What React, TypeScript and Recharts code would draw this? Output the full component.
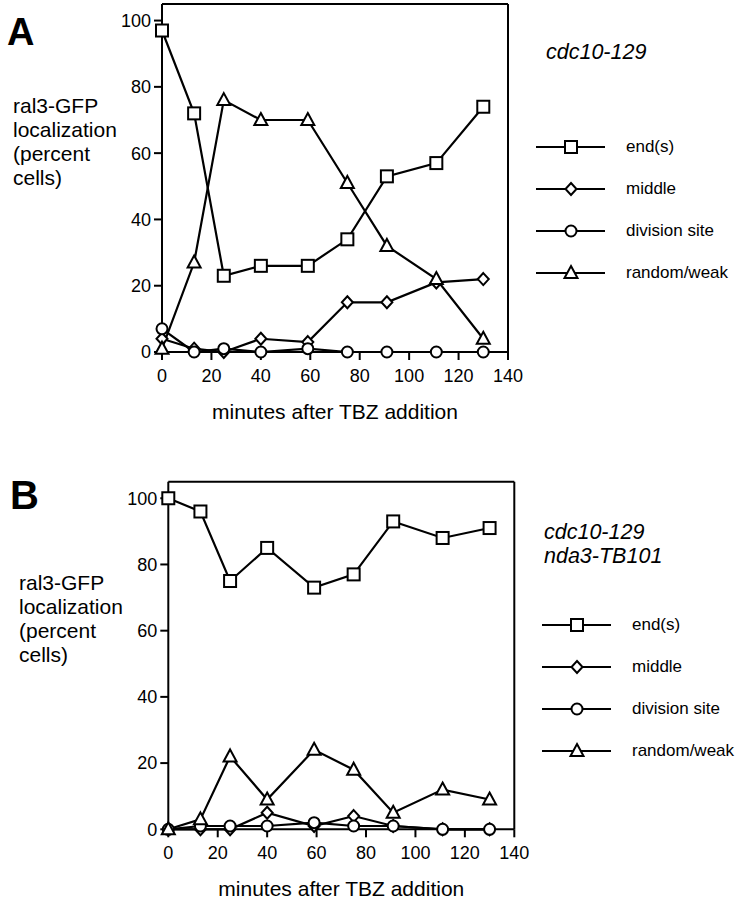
import React from 'react'
import { LineChart, Line, XAxis, YAxis, ReferenceLine, Legend, Label } from 'recharts'

const FONT = '"Liberation Sans", Arial, Helvetica, sans-serif'

// sampling times (minutes after TBZ addition)
const minutes = [0, 13, 25, 40, 59, 75, 91, 111, 130]

// panel A: cdc10-129
const endsA = [97, 72, 23, 26, 26, 34, 53, 57, 74]
const middleA = [4, 1, 0, 4, 3, 15, 15, 21, 22]
const divisionA = [7, 0, 1, 0, 1, 0, 0, 0, 0]
const randomA = [1, 27, 76, 70, 70, 51, 32, 22, 4]

// panel B: cdc10-129 nda3-TB101
const endsB = [100, 96, 75, 85, 73, 77, 93, 88, 91]
const middleB = [0, 0, 0, 5, 1, 4, 1, 0, 0]
const divisionB = [0, 1, 1, 1, 2, 1, 1, 0, 0]
const randomB = [0, 3, 22, 9, 24, 18, 5, 12, 9]

const xTicks = [0, 20, 40, 60, 80, 100, 120, 140]
const yTicks = [0, 20, 40, 60, 80, 100]

const seriesNames = ['end(s)', 'middle', 'division site', 'random/weak']
const seriesKeys = ['ends', 'middle', 'division', 'random']
const seriesShapes = ['square', 'diamond', 'circle', 'triangle']

function buildRows(ends: number[], middle: number[], division: number[], random: number[]) {
  return minutes.map((m, i) => ({
    minutes: m,
    ends: ends[i],
    middle: middle[i],
    division: division[i],
    random: random[i],
  }))
}

const dataA = buildRows(endsA, middleA, divisionA, randomA)
const dataB = buildRows(endsB, middleB, divisionB, randomB)

function Marker({ shape, cx, cy }: { shape: string; cx: number; cy: number }) {
  const common = { fill: '#fff', stroke: '#000', strokeWidth: 2 }
  if (shape === 'square') return <rect x={cx - 6} y={cy - 6} width={12} height={12} {...common} />
  if (shape === 'diamond')
    return <polygon points={`${cx},${cy - 6} ${cx + 5.5},${cy} ${cx},${cy + 6} ${cx - 5.5},${cy}`} {...common} />
  if (shape === 'circle') return <circle cx={cx} cy={cy} r={5.5} {...common} />
  return <polygon points={`${cx},${cy - 7} ${cx + 6.5},${cy + 5} ${cx - 6.5},${cy + 5}`} {...common} />
}

function makeDot(shape: string) {
  return (props: any) => {
    const { cx, cy, index } = props
    if (cx == null || cy == null) return <g key={index} />
    return (
      <g key={`${shape}-${index}`}>
        <Marker shape={shape} cx={cx} cy={cy} />
      </g>
    )
  }
}

function LegendBox() {
  return (
    <div style={{ fontFamily: FONT, fontSize: 17, color: '#000' }}>
      {seriesNames.map((name, i) => (
        <div key={name} style={{ display: 'flex', alignItems: 'center', height: 42 }}>
          <svg width={70} height={20} style={{ display: 'block' }}>
            <line x1={0} y1={10} x2={69} y2={10} stroke="#000" strokeWidth={1.8} />
            <Marker shape={seriesShapes[i]} cx={35} cy={10} />
          </svg>
          <span style={{ marginLeft: 20 }}>{name}</span>
        </div>
      ))}
    </div>
  )
}

function Panel(props: {
  data: any[]
  top: number
  height: number
  marginTop: number
  yAxisWidth: number
  marginRight: number
  xAxisHeight: number
  titleOffset: number
  legendLeft: number
  legendTop: number
}) {
  const tickStyle = { fill: '#000', fontSize: 18, fontFamily: FONT }
  return (
    <div style={{ position: 'absolute', left: 0, top: props.top }}>
      <LineChart
        width={738}
        height={props.height}
        data={props.data}
        margin={{ top: props.marginTop, right: props.marginRight, bottom: 0, left: 0 }}
      >
        <XAxis
          dataKey="minutes"
          type="number"
          domain={[0, 140]}
          ticks={xTicks}
          tickSize={8}
          tickMargin={9}
          height={props.xAxisHeight}
          tick={tickStyle}
          axisLine={{ stroke: '#000', strokeWidth: 2 }}
          tickLine={{ stroke: '#000', strokeWidth: 2 }}
        >
          <Label
            value="minutes after TBZ addition"
            position="insideBottom"
            offset={props.titleOffset}
            style={{ fill: '#000', fontSize: 21, fontFamily: FONT }}
          />
        </XAxis>
        <YAxis
          type="number"
          domain={[0, 105]}
          ticks={yTicks}
          width={props.yAxisWidth}
          tickSize={8}
          tickMargin={3}
          tick={tickStyle}
          axisLine={{ stroke: '#000', strokeWidth: 2 }}
          tickLine={{ stroke: '#000', strokeWidth: 2 }}
        />
        <ReferenceLine y={105} stroke="#000" strokeWidth={2} />
        <ReferenceLine x={140} stroke="#000" strokeWidth={2} />
        {seriesKeys.map((k, i) => (
          <Line
            key={k}
            dataKey={k}
            name={seriesNames[i]}
            stroke="#000"
            strokeWidth={2.2}
            dot={makeDot(seriesShapes[i])}
            activeDot={false}
            isAnimationActive={false}
          />
        ))}
        <Legend
          layout="vertical"
          align="center"
          verticalAlign="middle"
          content={() => <LegendBox />}
          wrapperStyle={{ left: props.legendLeft, top: props.legendTop, width: 220 }}
        />
      </LineChart>
    </div>
  )
}

const yTitleStyle: React.CSSProperties = {
  position: 'absolute',
  fontFamily: FONT,
  fontSize: 21,
  lineHeight: '24px',
  color: '#000',
}

export default function App() {
  return (
    <div
      style={{
        position: 'absolute',
        left: 0,
        top: 0,
        width: 738,
        height: 899,
        background: '#fff',
        overflow: 'hidden',
        fontFamily: FONT,
      }}
    >
      <Panel
        data={dataA}
        top={0}
        height={440}
        marginTop={4}
        yAxisWidth={162}
        marginRight={230}
        xAxisHeight={88}
        titleOffset={21}
        legendLeft={536}
        legendTop={126}
      />
      <Panel
        data={dataB}
        top={440}
        height={459}
        marginTop={41.7}
        yAxisWidth={168.3}
        marginRight={223.7}
        xAxisHeight={69.7}
        titleOffset={3}
        legendLeft={542}
        legendTop={164}
      />
      <div style={{ position: 'absolute', left: 7, top: 10, fontSize: 38, fontWeight: 'bold', lineHeight: '44px' }}>A</div>
      <div style={{ position: 'absolute', left: 10, top: 472, fontSize: 40, fontWeight: 'bold', lineHeight: '46px' }}>B</div>
      <div style={{ ...yTitleStyle, left: 13, top: 94 }}>
        ral3-GFP<br />localization<br />(percent<br />cells)
      </div>
      <div style={{ ...yTitleStyle, left: 19, top: 571 }}>
        ral3-GFP<br />localization<br />(percent<br />cells)
      </div>
      <div style={{ ...yTitleStyle, left: 546, top: 40, fontStyle: 'italic', fontSize: 21.5 }}>cdc10-129</div>
      <div style={{ ...yTitleStyle, left: 544, top: 520, fontStyle: 'italic', fontSize: 21.5 }}>
        cdc10-129<br />nda3-TB101
      </div>
    </div>
  )
}
